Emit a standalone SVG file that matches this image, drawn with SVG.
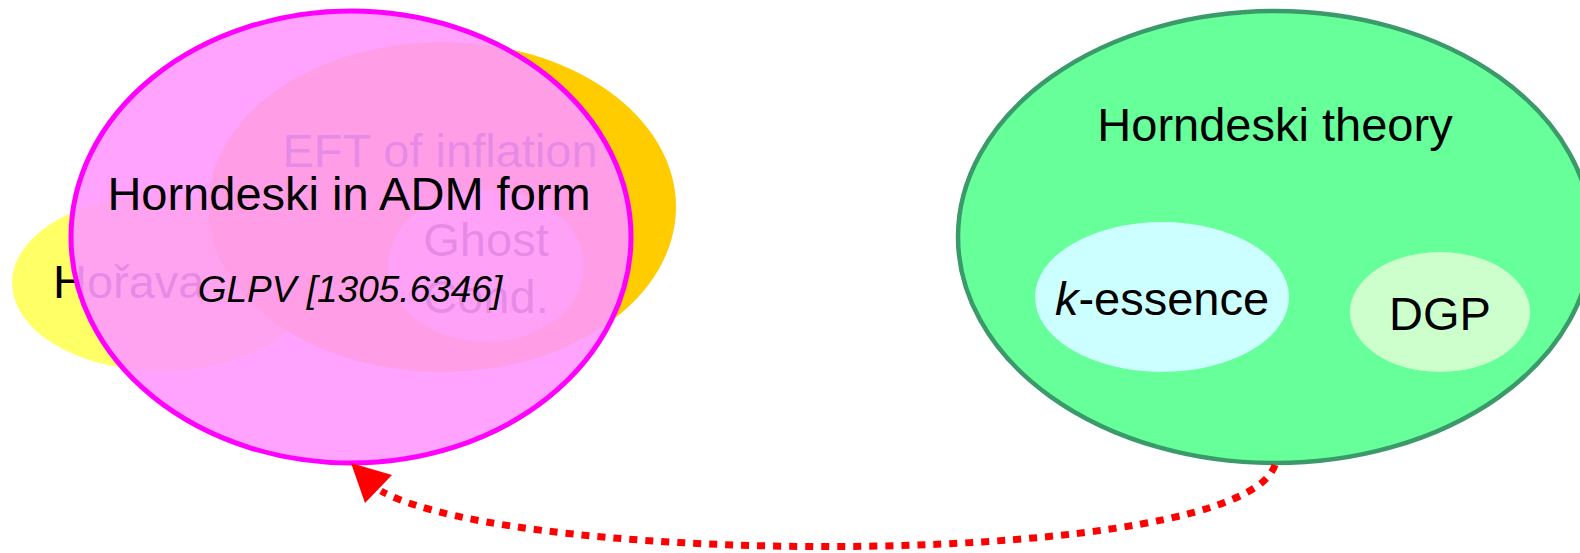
<svg xmlns="http://www.w3.org/2000/svg" width="1580" height="553" viewBox="0 0 1580 553">
<style>
text{font-family:"Liberation Sans",Arial,sans-serif;font-size:47px;fill:#000;text-anchor:middle}
.it{font-style:italic}
</style>
<rect x="0" y="0" width="1580" height="553" fill="#fff"/>
<g id="horava">
<ellipse cx="162" cy="283" rx="150" ry="88" fill="#ffff66"/>
<text x="53" y="298" style="text-anchor:start">Hořava</text>
</g>
<g id="eft">
<ellipse cx="442" cy="207" rx="234" ry="165" fill="#ffcc00"/>
<text x="440" y="167">EFT of inflation</text>
</g>
<g id="ghost">
<ellipse cx="486" cy="266" rx="98" ry="76" fill="#ffeeaa"/>
<text x="486" y="256">Ghost</text>
<text x="486" y="313">Cond.</text>
</g>
<g id="adm">
<ellipse cx="351" cy="237" rx="280" ry="226" fill="#ff99ff" fill-opacity="0.9" stroke="#ff00ff" stroke-width="5"/>
<text x="349" y="210">Horndeski in ADM form</text>
<text x="350" y="302" class="it" style="font-size:37px">GLPV [1305.6346]</text>
</g>
<g id="horndeski">
<ellipse cx="1275" cy="237" rx="317" ry="226" fill="#66ff99" stroke="#3a9a6a" stroke-width="4.5"/>
<text x="1275" y="141">Horndeski theory</text>
</g>
<g id="kessence">
<ellipse cx="1162" cy="297" rx="127" ry="75" fill="#ccffff"/>
<text x="1162" y="315"><tspan class="it">k</tspan>-essence</text>
</g>
<g id="dgp">
<ellipse cx="1440" cy="312" rx="90" ry="60" fill="#ccffcc"/>
<text x="1440" y="330">DGP</text>
</g>
<g id="connectors">
<path d="M1275,465 C1240,570 520,568 381,491" fill="none" stroke="#ff0000" stroke-width="7" stroke-dasharray="8 8"/>
<polygon points="351,463 392,475 365,503" fill="#ff0000"/>
</g>
</svg>
